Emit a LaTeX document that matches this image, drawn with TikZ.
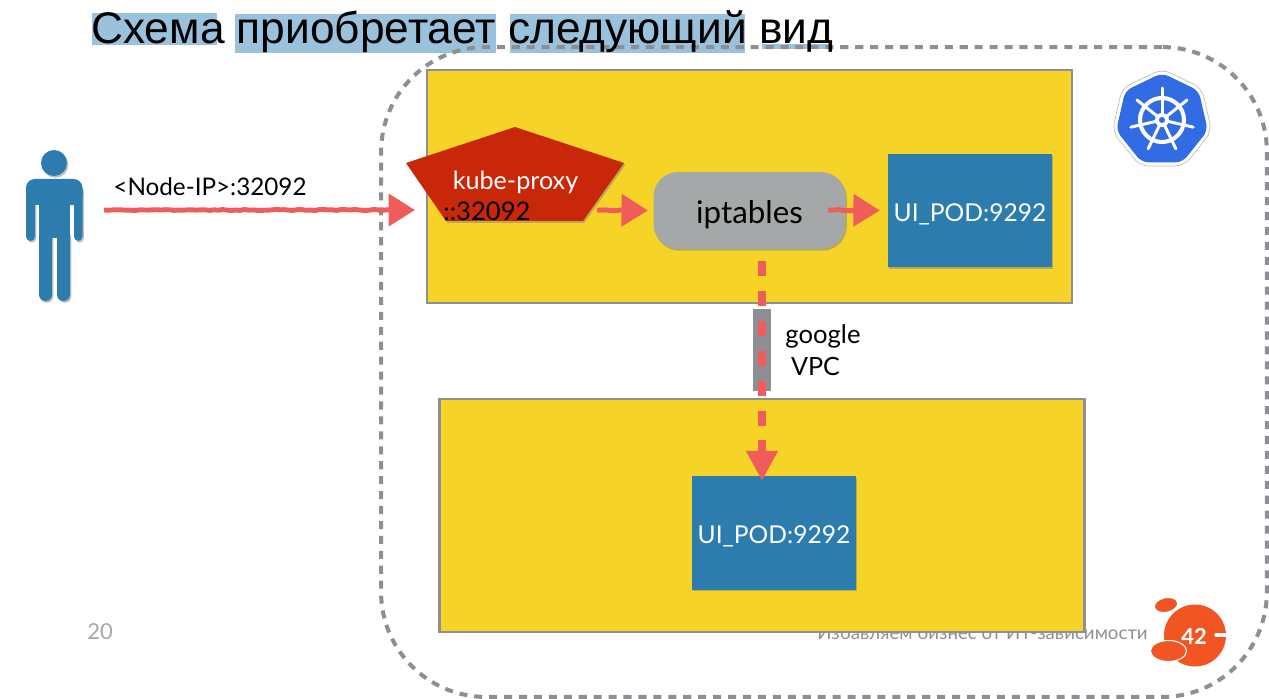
\documentclass[tikz,border=0pt]{standalone}
\usepackage{fontspec}
\setmainfont{Lato}
\newfontfamily\titlefont{Liberation Sans}
\usetikzlibrary{arrows.meta,shadows,decorations.pathmorphing}
\definecolor{hostyellow}{HTML}{F6D327}
\definecolor{hostgray}{HTML}{8E8F94}
\definecolor{podblue}{HTML}{2C7CAE}
\definecolor{arrowred}{HTML}{F05C5A}
\definecolor{proxyred}{HTML}{C9270A}
\definecolor{iptgray}{HTML}{A5A8A8}
\definecolor{markblue}{HTML}{9BC2DC}
\definecolor{kubeblue}{HTML}{326CE5}
\definecolor{logoorange}{HTML}{F05523}
\tikzset{
  softshadow/.style={drop shadow={opacity=.5,shadow xshift=.8pt,shadow yshift=-1pt}},
  hostbox/.style={draw=hostgray,line width=1.4pt,fill=hostyellow,minimum width=12.9cm,minimum height=4.66cm,inner sep=0pt},
  podbox/.style={fill=podblue,softshadow,minimum width=3.28cm,minimum height=2.27cm,inner sep=0pt,text=white,
    text height=14pt,text depth=2pt,font=\fontsize{14}{17}\selectfont},
  sketcharrow/.style={-{Triangle[length=15pt,width=18pt]},arrowred,line width=2.8pt,
    decorate,decoration={random steps,segment length=2.5pt,amplitude=.3pt,post length=8pt}},
  plaintext/.style={inner sep=0pt,text=black},
}
\begin{document}
\begin{tikzpicture}[x=0.02cm,y=-0.02cm,>=Stealth]
  \useasboundingbox (0,0) rectangle (1269,699);
  % footer
  \node[text=iptgray,inner sep=0pt,font=\fontsize{12.5}{15}\selectfont] (pagenum) at (100,632) {20};
  \node[text=hostgray,inner sep=0pt,font=\fontsize{10.65}{12}\selectfont] (slogan) at (982.5,633) {Избавляем бизнес от ИТ-зависимости};
  \fill[logoorange] (1195,635.5) circle (31);
  \draw[white,line width=.8pt,fill=logoorange,rotate around={12:(1166,605)}] (1166,605) ellipse (12 and 7.5);
  \draw[white,line width=.6pt,fill=logoorange] (1168.5,651) ellipse (18 and 10.5);
  \draw[white,line width=2pt,line cap=round] (1216,635) -- (1226,635);
  \node[text=white,inner sep=0pt,font=\fontsize{12.5}{15}\bfseries\selectfont] (logotext) at (1194,636) {42};
  % title marks
  \fill[markblue] (92,13) rectangle (217,45);
  \fill[markblue] (235,14) rectangle (496,53);
  \fill[markblue] (510,14) rectangle (745,53);
  \fill[markblue] (762,44) rectangle (832,49);
  % cluster
  \node[draw=hostgray,line width=2.3pt,dash pattern=on 4.6pt off 3.9pt,rounded corners=2.1cm,
    minimum width=17.72cm,minimum height=13cm,inner sep=0pt] (cluster) at (824,372) {};
  \node[anchor=base west,inner sep=0pt,font=\titlefont\fontsize{25.2}{28}\selectfont,text=black] (title) at (91,44) {Схема приобретает следующий вид};
  % hosts
  \node[hostbox] (hosttop) at (749.5,186.5) {};
  \node[hostbox] (hostlow) at (762,515.5) {};
  % kubernetes wheel
  \begin{scope}[shift={(1162,120)}]
    \fill[white,draw=black!25,line width=.4pt,rounded corners=5pt] (-90:51) -- (-38.6:51) -- (12.9:51) -- (64.3:51) -- (115.7:51) -- (167.1:51) -- (218.6:51) -- cycle;
    \fill[kubeblue,rounded corners=4pt] (-90:47) -- (-38.6:47) -- (12.9:47) -- (64.3:47) -- (115.7:47) -- (167.1:47) -- (218.6:47) -- cycle;
    \draw[white,line width=2.3pt] (0,0) circle (22);
    \foreach \a in {-90,-38.6,12.9,64.3,115.7,167.1,218.6}
      \draw[white,line width=1.7pt,line cap=round] (0,0) -- (\a:32);
    \fill[white] (0,0) circle (7);
    \fill[kubeblue] (0,0) circle (3);
  \end{scope}
  % person
  \begin{scope}[podblue]
    \fill[softshadow,rounded corners=2.6pt] (26,185) rectangle (35,241);
    \fill[softshadow,rounded corners=2.6pt] (74,185) rectangle (82.5,241);
    \fill[softshadow,rounded corners=3.6pt] (39,230) rectangle (52,301);
    \fill[softshadow,rounded corners=3.6pt] (57,230) rectangle (70,301);
    \fill[rounded corners=5pt] (26,205) -- (26,179) -- (82.5,179) -- (82.5,205) -- cycle;
    \fill (39,190) rectangle (70,238);
    \fill[softshadow] (54,163) circle (13);
  \end{scope}
  \coordinate (userout) at (104,210);
  \node[plaintext,font=\fontsize{13.8}{16}\selectfont] (nodeip) at (210,186.5) {<Node-IP>:32092};
  % kube-proxy
  \fill[proxyred,softshadow] (515,127) -- (624,163) -- (583,221) -- (446,221) -- (406,163) -- cycle;
  \node[inner sep=0pt,text=white,font=\fontsize{14.3}{18}\selectfont] (proxyname) at (515.5,182.5) {kube-proxy};
  \node[inner sep=0pt,text=black,font=\fontsize{14.6}{19}\selectfont] (proxyport) at (487,211) {::32092};
  \coordinate (proxyin) at (415,210);
  \coordinate (proxyout) at (597,210);
  % iptables and pods
  \node[fill=iptgray,softshadow,rounded corners=14pt,minimum width=3.84cm,minimum height=1.54cm,inner sep=0pt,
    text=black,text height=17pt,text depth=2pt,font=\fontsize{17.8}{20}\selectfont] (iptables) at (749.5,210.5) {iptables};
  \coordinate (iptout) at (828,210);
  \node[podbox] (podtop) at (970,210.5) {UI\_POD:9292};
  \node[podbox] (podlow) at (774,533) {UI\_POD:9292};
  % vpc link
  \node[fill=hostgray,minimum width=.36cm,minimum height=1.64cm,inner sep=0pt] (vpc) at (762,350) {};
  \node[plaintext,font=\fontsize{14.6}{16}\selectfont] (vpcname) at (823,336) {google};
  \node[plaintext,font=\fontsize{14.3}{16}\selectfont] (vpcword) at (815.5,366) {VPC};
  % arrows
  \draw[sketcharrow] (userout) -- (proxyin);
  \draw[sketcharrow] (proxyout) -- ([xshift=-3pt]iptables.west);
  \draw[sketcharrow] (iptout) -- ([xshift=-4.5pt]podtop.west);
  \draw[arrowred,line width=4.6pt,dash pattern=on 8.5pt off 8.5pt,
    -{Triangle[length=17pt,width=17pt]},shorten <=6.8pt,shorten >=-2.8pt] (iptables.south -| vpc) -- (podlow.north -| vpc);
\end{tikzpicture}
\end{document}
